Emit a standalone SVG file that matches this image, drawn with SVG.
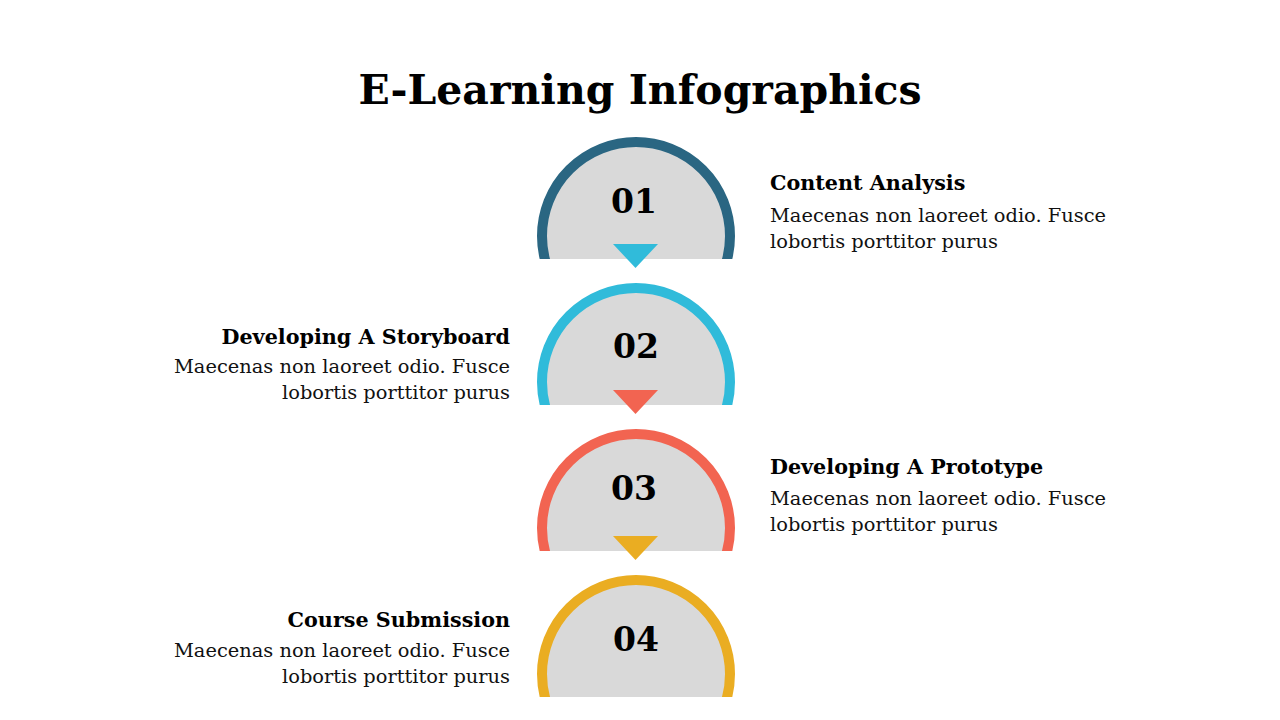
<svg xmlns="http://www.w3.org/2000/svg" width="1280" height="720" viewBox="0 0 1280 720">
<defs>
<style>
.title{font-family:"DejaVu Serif","Liberation Serif",serif;font-weight:bold;font-size:41px;fill:#000}
.num{font-family:"DejaVu Serif","Liberation Serif",serif;font-weight:bold;font-size:33px;fill:#000;text-anchor:middle}
.head{font-family:"DejaVu Serif","Liberation Serif",serif;font-weight:bold;font-size:20.7px;fill:#000}
.body{font-family:"DejaVu Serif","Liberation Serif",serif;font-size:19.4px;fill:#111}
.r{text-anchor:end}
.ring{fill:#D9D9D9;stroke-width:10}
</style>
<clipPath id="cut1"><rect x="500" y="100" width="280" height="159"/></clipPath>
<clipPath id="cut2"><rect x="500" y="246" width="280" height="159"/></clipPath>
<clipPath id="cut3"><rect x="500" y="392" width="280" height="159"/></clipPath>
<clipPath id="cut4"><rect x="500" y="538" width="280" height="159"/></clipPath>
</defs>
<rect width="1280" height="720" fill="#fff"/>
<text class="title" x="640" y="104" text-anchor="middle">E-Learning Infographics</text>

<g id="step1">
<circle class="ring" cx="636" cy="236" r="94" stroke="#2A6682" clip-path="url(#cut1)"/>
<text class="num" x="634" y="213">01</text>
<text class="head" x="770" y="190">Content Analysis</text>
<text class="body" x="770" y="222">Maecenas non laoreet odio. Fusce</text>
<text class="body" x="770" y="248">lobortis porttitor purus</text>
</g>
<g id="step2">
<circle class="ring" cx="636" cy="382" r="94" stroke="#30BBDA" clip-path="url(#cut2)"/>
<text class="num" x="636" y="358">02</text>
<text class="head r" x="510" y="344">Developing A Storyboard</text>
<text class="body r" x="510" y="373">Maecenas non laoreet odio. Fusce</text>
<text class="body r" x="510" y="399">lobortis porttitor purus</text>
</g>
<g id="step3">
<circle class="ring" cx="636" cy="528" r="94" stroke="#F26451" clip-path="url(#cut3)"/>
<text class="num" x="634" y="500">03</text>
<text class="head" x="770" y="474">Developing A Prototype</text>
<text class="body" x="770" y="505">Maecenas non laoreet odio. Fusce</text>
<text class="body" x="770" y="531">lobortis porttitor purus</text>
</g>
<g id="step4">
<circle class="ring" cx="636" cy="674" r="94" stroke="#EAAD22" clip-path="url(#cut4)"/>
<text class="num" x="636" y="651">04</text>
<text class="head r" x="510" y="627">Course Submission</text>
<text class="body r" x="510" y="657">Maecenas non laoreet odio. Fusce</text>
<text class="body r" x="510" y="683">lobortis porttitor purus</text>
</g>
<g id="connectors">
<polygon points="613,244 658,244 635.5,268" fill="#30BBDA"/>
<polygon points="613,390 658,390 635.5,414" fill="#F26451"/>
<polygon points="613,536 658,536 635.5,560" fill="#EAAD22"/>
</g>
</svg>
